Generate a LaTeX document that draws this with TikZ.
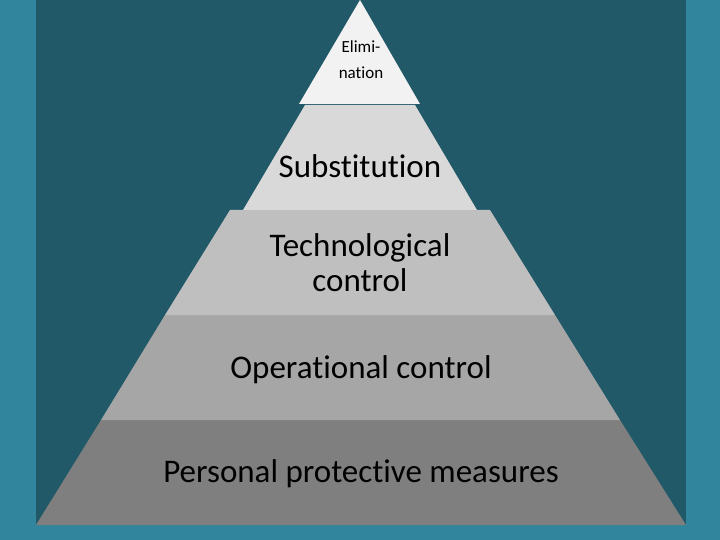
\documentclass[tikz,border=0pt]{standalone}
\usepackage{fontspec}
\setmainfont[Ligatures={NoCommon}]{Carlito}
\definecolor{lteal}{HTML}{31859C}
\definecolor{dteal}{HTML}{215968}
\definecolor{cA}{HTML}{F2F2F2}
\definecolor{cB}{HTML}{D9D9D9}
\definecolor{cC}{HTML}{BFBFBF}
\definecolor{cD}{HTML}{A6A6A6}
\definecolor{cE}{HTML}{7F7F7F}
\begin{document}
\begin{tikzpicture}[x=1pt,y=-1pt,
  lbl/.style={text=black,font=\fontsize{33}{35}\selectfont,align=center,inner sep=0pt},
  smalllbl/.style={text=black,font=\fontsize{17}{26}\selectfont,align=center,inner sep=0pt}]
\useasboundingbox (0,0) rectangle (720,540);
\fill[lteal] (0,0) rectangle (720,540);
\fill[dteal] (36,0) rectangle (686,525);
% bands
\fill[cE] (101,420) -- (620,420) -- (686,525) -- (36,525) -- cycle;
\fill[cD] (165,315) -- (555,315) -- (620,420) -- (101,420) -- cycle;
\fill[cC] (230,210) -- (490,210) -- (555,315) -- (165,315) -- cycle;
\fill[cB] (305,105) -- (415,105) -- (477,210) -- (243,210) -- cycle;
\fill[cA] (360,0) -- (420,104) -- (299,104) -- cycle;
% labels
\node[smalllbl] (elim) at (361,59.5) {Elimi-\\nation};
\node[lbl] (subst) at (360,166) {Substitution};
\node[lbl] (tech) at (360,262.5) {Technological\\control};
\node[lbl] (oper) at (361,370) {Operational control};
\node[lbl] (ppe) at (361,474) {Personal protective measures};
\end{tikzpicture}
\end{document}
